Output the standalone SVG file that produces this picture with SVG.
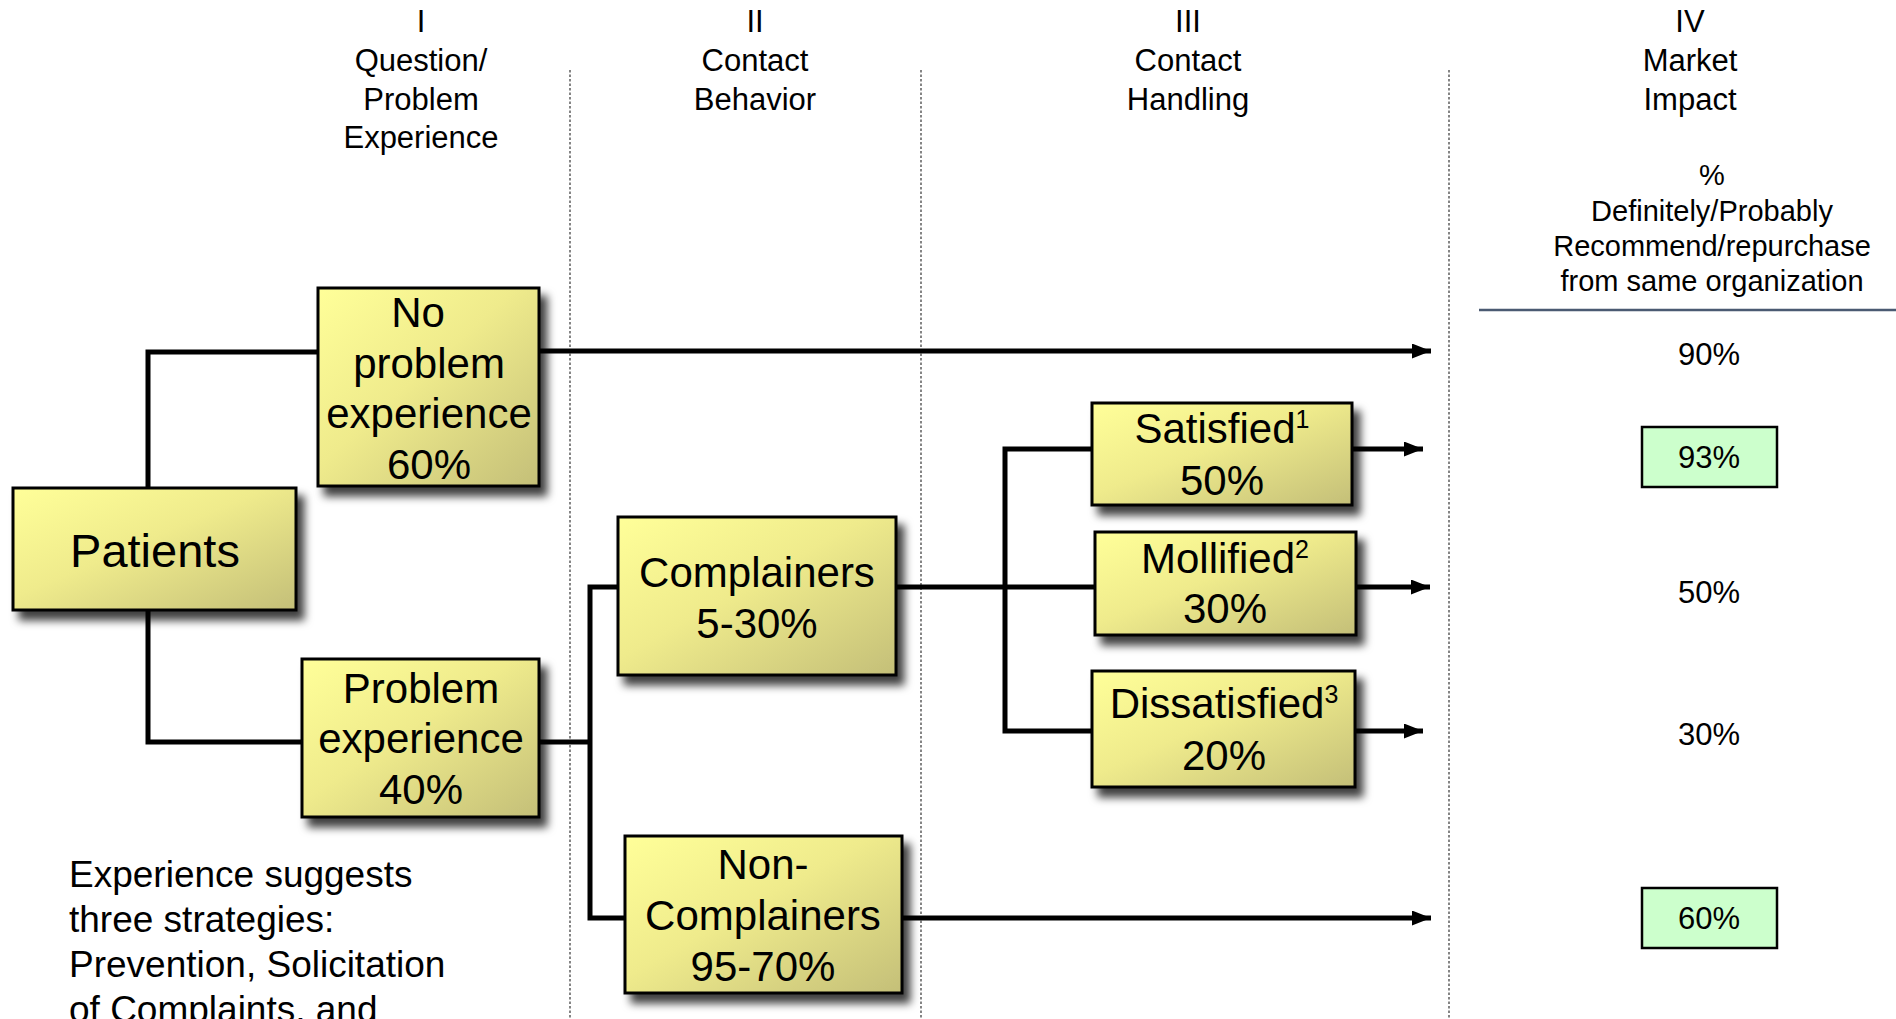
<svg xmlns="http://www.w3.org/2000/svg" width="1896" height="1019" viewBox="0 0 1896 1019">
<defs>
<linearGradient id="yg" x1="0" y1="0" x2="1" y2="1">
<stop offset="0" stop-color="#ffff99"/>
<stop offset="0.45" stop-color="#efeb8c"/>
<stop offset="1" stop-color="#c4bf78"/>
</linearGradient>
<filter id="sh" x="-10%" y="-10%" width="130%" height="140%">
<feDropShadow dx="7" dy="9" stdDeviation="4" flood-color="#000" flood-opacity="0.75"/>
</filter>
<marker id="ah" markerWidth="19" markerHeight="15" refX="19" refY="7.5" orient="auto" markerUnits="userSpaceOnUse">
<path d="M0,0 L19,7.5 L0,15 Z" fill="#000"/>
</marker>
</defs>
<style>
.box{fill:url(#yg);stroke:#000;stroke-width:3;filter:url(#sh)}
.t{font-family:"Liberation Sans",Arial,sans-serif;fill:#000;text-anchor:middle}
.n{font-size:42px}
.h{font-size:31px}
.s{font-size:29px}
.p{font-size:31px}
.c{fill:none;stroke:#000;stroke-width:5}
.a{fill:none;stroke:#000;stroke-width:5;marker-end:url(#ah)}
.d{stroke:#444;stroke-width:1.3;stroke-dasharray:2.5 2}
.g{fill:#ccffcc;stroke:#000;stroke-width:2.5}
</style>
<rect width="1896" height="1019" fill="#fff"/>

<g id="dividers">
<line class="d" x1="570" y1="70" x2="570" y2="1019"/>
<line class="d" x1="921" y1="70" x2="921" y2="1019"/>
<line class="d" x1="1449" y1="70" x2="1449" y2="1019"/>
</g>

<g id="headers">
<text class="t h" x="421" y="32">I</text>
<text class="t h" x="421" y="71">Question/</text>
<text class="t h" x="421" y="109.5">Problem</text>
<text class="t h" x="421" y="148">Experience</text>
<text class="t h" x="755" y="32">II</text>
<text class="t h" x="755" y="71">Contact</text>
<text class="t h" x="755" y="109.5">Behavior</text>
<text class="t h" x="1188" y="32">III</text>
<text class="t h" x="1188" y="71">Contact</text>
<text class="t h" x="1188" y="109.5">Handling</text>
<text class="t h" x="1690" y="32">IV</text>
<text class="t h" x="1690" y="71">Market</text>
<text class="t h" x="1690" y="109.5">Impact</text>
<text class="t s" x="1712" y="185">%</text>
<text class="t s" x="1712" y="220.5">Definitely/Probably</text>
<text class="t s" x="1712" y="256">Recommend/repurchase</text>
<text class="t s" x="1712" y="291">from same organization</text>
<line x1="1479" y1="310" x2="1896" y2="310" stroke="#4a5a72" stroke-width="2.5"/>
</g>

<g id="connectors">
<path class="c" d="M148,488 V352 H318"/>
<path class="c" d="M148,610 V742 H302"/>
<path class="a" d="M539,351 H1431"/>
<path class="c" d="M539,742 H590"/>
<path class="c" d="M618,587 H590 V918 H625"/>
<path class="c" d="M896,587 H1095"/>
<path class="c" d="M1092,449 H1005 V731 H1092"/>
<path class="a" d="M1352,449 H1423"/>
<path class="a" d="M1356,587 H1430"/>
<path class="a" d="M1355,731 H1423"/>
<path class="a" d="M902,918 H1431"/>
</g>

<g id="patients">
<rect class="box" x="13" y="488" width="283" height="122"/>
<text class="t" x="155" y="567" font-size="47">Patients</text>
</g>

<g id="no-problem">
<rect class="box" x="318" y="288" width="221" height="198"/>
<text class="t n" x="418" y="327">No</text>
<text class="t n" x="429" y="378">problem</text>
<text class="t n" x="429" y="428">experience</text>
<text class="t n" x="429" y="479">60%</text>
</g>

<g id="problem">
<rect class="box" x="302" y="659" width="237" height="158"/>
<text class="t n" x="421" y="703">Problem</text>
<text class="t n" x="421" y="753">experience</text>
<text class="t n" x="421" y="804">40%</text>
</g>

<g id="complainers">
<rect class="box" x="618" y="517" width="278" height="158"/>
<text class="t n" x="757" y="587">Complainers</text>
<text class="t n" x="757" y="638">5-30%</text>
</g>

<g id="non-complainers">
<rect class="box" x="625" y="836" width="277" height="157"/>
<text class="t n" x="763" y="879">Non-</text>
<text class="t n" x="763" y="930">Complainers</text>
<text class="t n" x="763" y="981">95-70%</text>
</g>

<g id="satisfied">
<rect class="box" x="1092" y="403" width="260" height="102"/>
<text class="t n" x="1222" y="443">Satisfied<tspan font-size="25" dy="-15">1</tspan></text>
<text class="t n" x="1222" y="495">50%</text>
</g>

<g id="mollified">
<rect class="box" x="1095" y="532" width="261" height="103"/>
<text class="t n" x="1225" y="573">Mollified<tspan font-size="25" dy="-15">2</tspan></text>
<text class="t n" x="1225" y="623">30%</text>
</g>

<g id="dissatisfied">
<rect class="box" x="1092" y="671" width="263" height="116"/>
<text class="t n" x="1224" y="718">Dissatisfied<tspan font-size="25" dy="-15">3</tspan></text>
<text class="t n" x="1224" y="770">20%</text>
</g>

<g id="impact">
<text class="t p" x="1709" y="365">90%</text>
<rect class="g" x="1642" y="427" width="135" height="60"/>
<text class="t p" x="1709" y="468">93%</text>
<text class="t p" x="1709" y="603">50%</text>
<text class="t p" x="1709" y="745">30%</text>
<rect class="g" x="1642" y="888" width="135" height="60"/>
<text class="t p" x="1709" y="929">60%</text>
</g>

<g id="note">
<text font-family="Liberation Sans, Arial, sans-serif" font-size="37" fill="#000">
<tspan x="69" y="887">Experience suggests</tspan>
<tspan x="69" y="931.5">three strategies:</tspan>
<tspan x="69" y="976.5">Prevention, Solicitation</tspan>
<tspan x="69" y="1021.5">of Complaints, and</tspan>
</text>
</g>
</svg>
